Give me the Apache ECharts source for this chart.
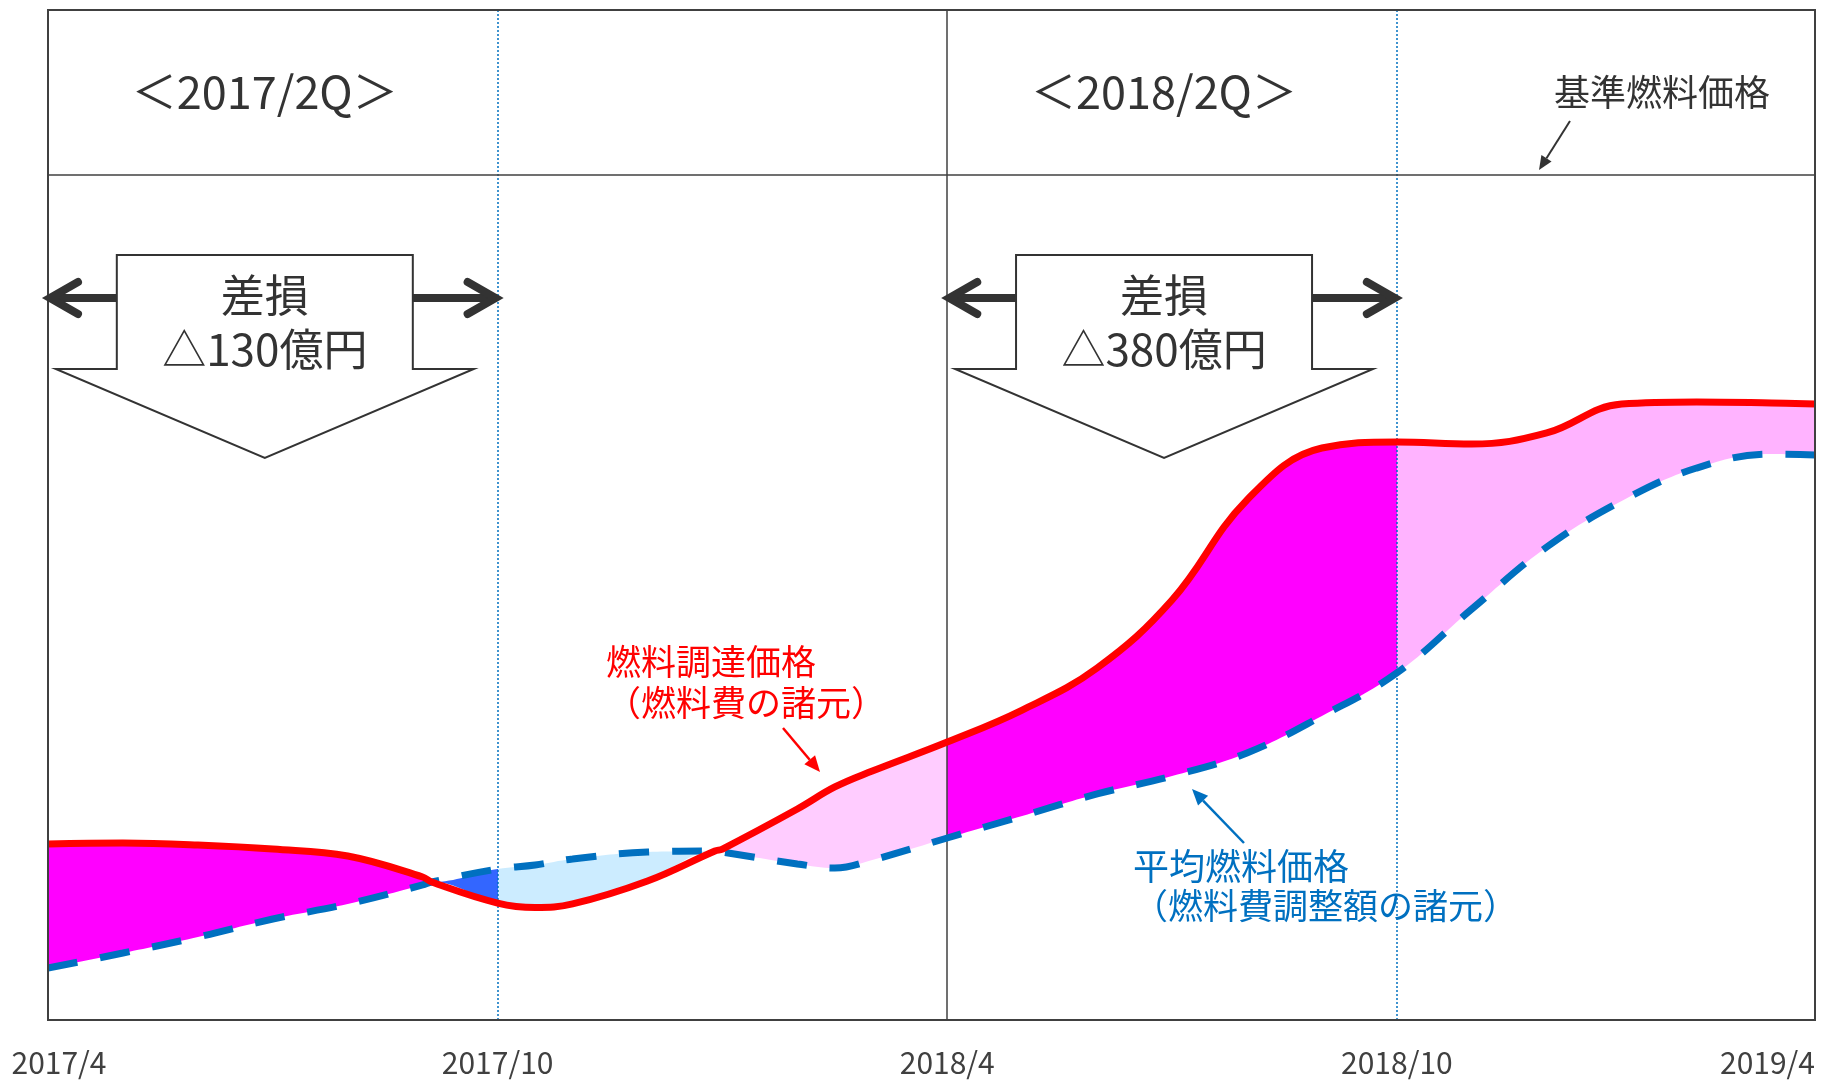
<!DOCTYPE html>
<html><head><meta charset="utf-8">
<script src="https://cdn.jsdelivr.net/npm/echarts@6/dist/echarts.min.js"></script>
<style>html,body{margin:0;padding:0;background:#fff}#c{width:1841px;height:1082px}</style>
</head><body><div id="c"></div>
<script>
// x = months since 2017/4 (schematic axis)
const months = [0,1,2,3,4,5,5.12,6,6.5,7,8,8.9,9,10,10.5,11,12,13,14,15,16,17,18,19,20,21,22,23,23.58];
// 燃料調達価格（燃料費の諸元）
const procurementPrice = [17.43,17.52,17.33,16.93,16.24,14.16,13.66,11.58,11.14,11.49,13.76,16.73,16.93,20.89,23.07,24.65,27.52,30.69,34.85,41.58,51.49,56.63,57.23,57.03,58.12,60.99,61.19,61.09,60.99];
// 平均燃料価格（燃料費調整額の諸元）
const averagePrice = [5.15,6.63,8.22,10.0,11.49,13.37,13.66,14.95,15.35,15.94,16.63,16.73,16.63,15.45,15.05,15.84,18.02,20.2,22.38,24.16,26.44,30.1,34.36,40.69,46.83,51.39,54.65,56.04,55.94];
// 基準燃料価格
const baseFuelPrice = 83.7;
// tick labels
const tickMonths = [0,6,12,18,23.58];
const tickLabels = ['2017/4','2017/10','2018/4','2018/10','2019/4'];
// crossings of the two curves
const crossings = [5.12, 8.9];
// loss periods and labels
const lossPeriods = [[0,6],[12,18]];
const quarterLabels = ['＜2017/2Q＞','＜2018/2Q＞'];
const lossLabels = ['△130億円','△380億円'];

const FONT = "'Noto Sans CJK JP','Noto Sans',sans-serif";
const chart = echarts.init(document.getElementById('c'), null, {renderer:'canvas'});

const bandTop = months.map((m,i)=>[m, Math.max(procurementPrice[i], averagePrice[i])]);
const bandBottom = months.map((m,i)=>[m, Math.min(procurementPrice[i], averagePrice[i])]);
const SM = 0.4;
const GRID = {left:48,right:26,top:10,bottom:62};

chart.setOption({
  animation:false,
  backgroundColor:'#fff',
  grid:Object.assign({show:false},GRID),
  xAxis:{type:'value',min:0,max:tickMonths[tickMonths.length-1],
    axisLine:{show:false},axisTick:{show:false},splitLine:{show:false},
    axisLabel:{customValues:tickMonths,
      formatter:v=>{const i=tickMonths.findIndex(t=>Math.abs(t-v)<1e-6);if(i<0)return '';return i===0?'{f|'+tickLabels[i]+'}':tickLabels[i];},
      rich:{f:{fontSize:30,color:'#404040',fontFamily:FONT,padding:[0,0,0,22]}},
      fontSize:30,color:'#404040',margin:28,fontFamily:FONT,alignMinLabel:'center',alignMaxLabel:'right'}},
  yAxis:{type:'value',min:0,max:100,show:false,splitLine:{show:false}},
  visualMap:{show:false,type:'piecewise',seriesIndex:0,dimension:0,
    pieces:[
      {lt:crossings[0],color:'#FF00FF'},
      {gte:crossings[0],lt:lossPeriods[0][1],color:'#3366FF'},
      {gte:lossPeriods[0][1],lt:crossings[1],color:'#CCECFF'},
      {gte:crossings[1],lt:lossPeriods[1][0],color:'#FFCCFF'},
      {gte:lossPeriods[1][0],lt:lossPeriods[1][1],color:'#FF00FF'},
      {gte:lossPeriods[1][1],color:'#FFB3FF'}
    ]},
  series:[
    {type:'line',name:'bandTop',data:bandTop,smooth:SM,showSymbol:false,symbol:'none',silent:true,z:1,
      lineStyle:{opacity:0,width:0},areaStyle:{opacity:1}},
    {type:'line',name:'bandBottom',data:bandBottom,smooth:SM,showSymbol:false,symbol:'none',silent:true,z:2,
      lineStyle:{opacity:0,width:0},areaStyle:{opacity:1,color:'#ffffff'},
      markLine:{symbol:'none',silent:true,z:3,label:{show:false},animation:false,
        data:[
          {xAxis:lossPeriods[0][1],lineStyle:{color:'#0070C0',type:[2,2],width:1.5}},
          {xAxis:lossPeriods[1][0],lineStyle:{color:'#404040',type:'solid',width:1.5}},
          {xAxis:lossPeriods[1][1],lineStyle:{color:'#0070C0',type:[2,2],width:1.5}},
          {yAxis:baseFuelPrice,lineStyle:{color:'#404040',type:'solid',width:1.5}}
        ]}},
    {type:'line',name:'平均燃料価格',data:months.map((m,i)=>[m,averagePrice[i]]),smooth:SM,showSymbol:false,symbol:'none',z:4,
      lineStyle:{color:'#0070C0',width:7,type:[30,23],cap:'butt'}},
    {type:'line',name:'燃料調達価格',data:months.map((m,i)=>[m,procurementPrice[i]]),smooth:SM,showSymbol:false,symbol:'none',z:5,
      lineStyle:{color:'#FF0000',width:7}}
  ]
});

function arrow(x1,y1,x2,y2,color,w,hl,hw){
  const a=Math.atan2(y2-y1,x2-x1),c=Math.cos(a),s=Math.sin(a);
  const bx=x2-hl*c,by=y2-hl*s;
  return [
    {type:'line',shape:{x1:x1,y1:y1,x2:bx,y2:by},style:{stroke:color,lineWidth:w},z:100,silent:true},
    {type:'polygon',shape:{points:[[x2,y2],[bx-hw*s,by+hw*c],[bx+hw*s,by-hw*c]]},style:{fill:color},z:100,silent:true}
  ];
}
function txt(x,y,t,size,color,align){
  return {type:'text',x:x,y:y,style:{text:t,fontSize:size,fill:color,fontFamily:FONT,align:align||'center',verticalAlign:'middle'},z:100,silent:true};
}

const g=[];
// plot frame
const W=1841,H=1082;
g.push({type:'rect',shape:{x:GRID.left,y:GRID.top,width:W-GRID.left-GRID.right,height:H-GRID.top-GRID.bottom},
  style:{fill:null,stroke:'#404040',lineWidth:2},z:60,silent:true});
lossPeriods.forEach((p,k)=>{
  const xs=chart.convertToPixel({xAxisIndex:0},p[0]);
  const xe=chart.convertToPixel({xAxisIndex:0},p[1]);
  const c=(xs+xe)/2-8;
  g.push(txt(c,92,quarterLabels[k],45,'#333'));
  g.push({type:'polygon',shape:{points:[[c-148,255],[c+148,255],[c+148,369],[c+209,369],[c,458],[c-209,369],[c-148,369]]},
    style:{fill:'#fff',stroke:'#333',lineWidth:2},z:90,silent:true});
  const ay=298;
  g.push({type:'polyline',shape:{points:[[c-148,ay],[xs+3,ay]]},style:{stroke:'#333',lineWidth:8,fill:null},z:91,silent:true});
  g.push({type:'polyline',shape:{points:[[xs+30,ay-16],[xs+2,ay],[xs+30,ay+16]]},style:{stroke:'#333',lineWidth:8,lineCap:'round',lineJoin:'miter',fill:null},z:91,silent:true});
  g.push({type:'polyline',shape:{points:[[c+148,ay],[xe-3,ay]]},style:{stroke:'#333',lineWidth:8,fill:null},z:91,silent:true});
  g.push({type:'polyline',shape:{points:[[xe-30,ay-16],[xe-2,ay],[xe-30,ay+16]]},style:{stroke:'#333',lineWidth:8,lineCap:'round',lineJoin:'miter',fill:null},z:91,silent:true});
  g.push(txt(c,295,'差損',44,'#333'));
  g.push(txt(c,349,lossLabels[k],44,'#333'));
});
g.push(txt(1662,92,'基準燃料価格',36,'#333'));
g.push(...arrow(1570,121,1539,170,'#333',2,14,6));
g.push(txt(606,662,'燃料調達価格',35,'#FF0000','left'));
g.push(txt(606,703,'（燃料費の諸元）',35,'#FF0000','left'));
g.push(...arrow(783,728,820,772,'#FF0000',2.5,16,7));
g.push(txt(1133,866,'平均燃料価格',36,'#0070C0','left'));
g.push(txt(1133,906,'（燃料費調整額の諸元）',35,'#0070C0','left'));
g.push(...arrow(1244,843,1192,789,'#0070C0',2.5,16,7));
chart.setOption({graphic:{elements:g}});
</script>
</body></html>
